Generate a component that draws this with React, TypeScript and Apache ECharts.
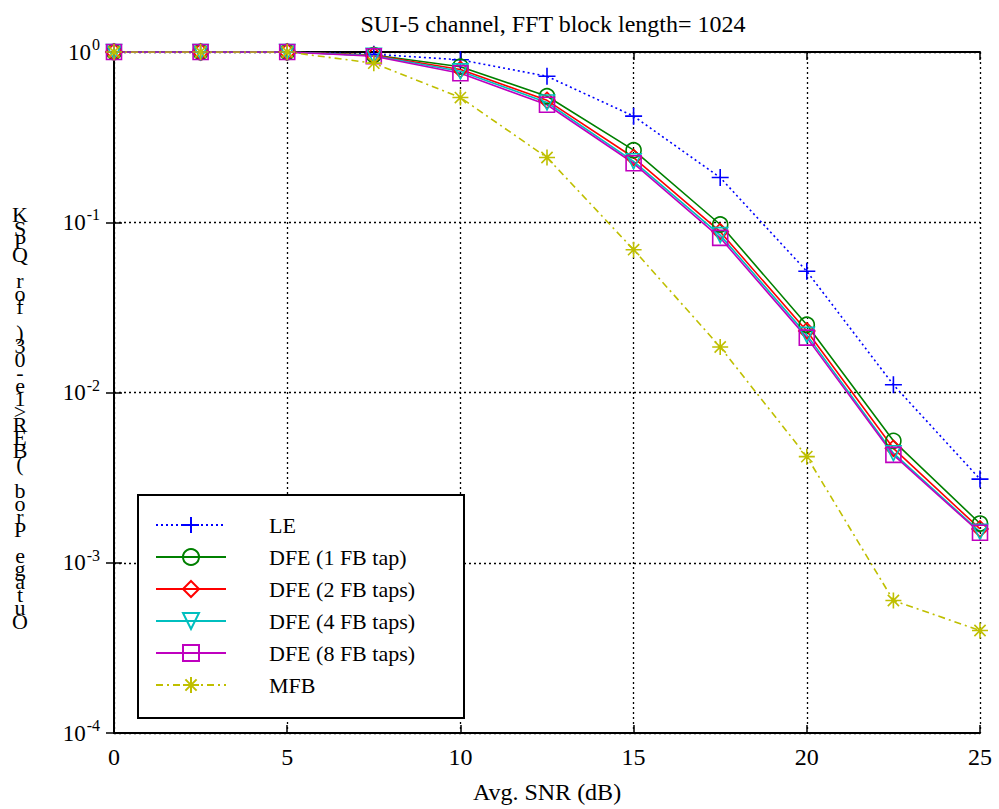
import React, { useEffect, useRef } from "react";
import * as echarts from "echarts";

const snr = [0, 2.5, 5, 7.5, 10, 12.5, 15, 17.5, 20, 22.5, 25];
const le = [1, 1, 1, 0.97, 0.9, 0.72, 0.42, 0.183, 0.0515, 0.0111, 0.0031];
const dfe1 = [1, 1, 1, 0.96, 0.82, 0.55, 0.265, 0.097, 0.025, 0.0052, 0.0017];
const dfe2 = [1, 1, 1, 0.955, 0.79, 0.52, 0.24, 0.088, 0.023, 0.0047, 0.00158];
const dfe4 = [1, 1, 1, 0.95, 0.77, 0.505, 0.228, 0.084, 0.0218, 0.0044, 0.00152];
const dfe8 = [1, 1, 1, 0.945, 0.75, 0.49, 0.222, 0.081, 0.021, 0.0043, 0.0015];
const mfb = [1, 1, 1, 0.86, 0.54, 0.24, 0.069, 0.0185, 0.0042, 0.0006, 0.0004];

const seriesNames = [
  "LE",
  "DFE (1 FB tap)",
  "DFE (2 FB taps)",
  "DFE (4 FB taps)",
  "DFE (8 FB taps)",
  "MFB",
];

const titleText = "SUI-5 channel, FFT block length= 1024";
const xName = "Avg. SNR (dB)";
const yName = "Outage Prob (BER>1e-03) for QPSK";

const FONT = '"Liberation Serif", "Times New Roman", serif';

const PLUS = "path://M0,5L10,5M5,0L5,10";
const STAR = "path://M5,0L5,10M0,5L10,5M1.5,1.5L8.5,8.5M8.5,1.5L1.5,8.5";

export default function App() {
  const ref = useRef<HTMLDivElement>(null);
  useEffect(() => {
    if (!ref.current) return;
    const chart = echarts.init(ref.current, undefined, { renderer: "svg" });
    const mk = (
      name: string,
      vals: number[],
      color: string,
      symbol: string,
      size: number,
      lineType: any,
      rotate = 0
    ) => ({
      name,
      type: "line",
      data: snr.map((x, i) => [x, vals[i]]),
      symbol,
      symbolSize: size,
      symbolRotate: rotate,
      showAllSymbol: true,
      color,
      itemStyle: { color: "rgba(0,0,0,0)", borderColor: color, borderWidth: 1.6 },
      lineStyle: { color, width: 1.6, type: lineType },
      z: 2,
    });
    const series = [
      mk(seriesNames[0], le, "#0000ff", PLUS, 17, [2, 3]),
      mk(seriesNames[1], dfe1, "#008000", "circle", 15, "solid"),
      mk(seriesNames[2], dfe2, "#ff0000", "diamond", 16, "solid"),
      mk(seriesNames[3], dfe4, "#00bfbf", "triangle", 15, "solid", 180),
      mk(seriesNames[4], dfe8, "#bf00bf", "rect", 15, "solid"),
      mk(seriesNames[5], mfb, "#bfbf00", STAR, 16, [7, 4, 2, 4]),
    ];
    const axisLine = { show: true, lineStyle: { color: "#000", width: 2 } };
    const tick = { show: true, inside: true, length: 8, lineStyle: { color: "#000", width: 1.5 } };
    chart.setOption({
      animation: false,
      backgroundColor: "#fff",
      title: {
        text: titleText,
        left: 548,
        top: 7,
        textAlign: "center",
        textStyle: { fontFamily: FONT, fontSize: 24, fontWeight: "normal", color: "#000" },
      },
      grid: { left: 114, right: 19, top: 52, bottom: 75 },
      xAxis: [
        {
          type: "value",
          min: 0,
          max: 25,
          interval: 5,
          axisLine,
          axisTick: tick,
          axisLabel: { fontFamily: FONT, fontSize: 24, color: "#000", margin: 12 },
          splitLine: { show: true, lineStyle: { color: "#000", type: [2, 3], width: 1.3 } },
          name: xName,
          nameLocation: "middle",
          nameGap: 47,
          nameTextStyle: { fontFamily: FONT, fontSize: 24, color: "#000" },
        },
        {
          type: "value",
          position: "top",
          min: 0,
          max: 25,
          interval: 5,
          axisLine,
          axisTick: tick,
          axisLabel: { show: false },
          splitLine: { show: false },
        },
      ],
      yAxis: [
        {
          type: "log",
          logBase: 10,
          min: 1e-4,
          max: 1,
          axisLine,
          axisTick: tick,
          minorTick: { show: false },
          axisLabel: {
            margin: 14,
            formatter: (v: number) => `{b|10}{s|${Math.round(Math.log10(v))}}`,
            rich: {
              b: { fontFamily: FONT, fontSize: 23, color: "#000" },
              s: { fontFamily: FONT, fontSize: 16, color: "#000", padding: [0, 0, 15, 1] },
            },
          },
          splitLine: { show: true, lineStyle: { color: "#000", type: [2, 3], width: 1.3 } },
        },
        {
          type: "log",
          logBase: 10,
          min: 1e-4,
          max: 1,
          position: "right",
          axisLine,
          axisTick: tick,
          axisLabel: { show: false },
          splitLine: { show: false },
        },
      ],
      legend: {
        orient: "vertical",
        left: 155,
        top: 514,
        itemWidth: 70,
        itemHeight: 20,
        itemGap: 10,
        padding: 0,
        data: seriesNames,
        textStyle: { fontFamily: FONT, fontSize: 22, lineHeight: 22, color: "#000", padding: [0, 0, 0, 38] },
        z: 5,
      },
      graphic: [
        {
          type: "rect",
          shape: { x: 138, y: 495, width: 326, height: 223 },
          style: { fill: "#fff", stroke: "#000", lineWidth: 2 },
          z: 4,
        },
        {
          type: "text",
          x: 20,
          y: 418,
          style: {
            text: yName.split("").reverse().join("\n"),
            fontFamily: FONT,
            fontSize: 22,
            lineHeight: 13.1,
            fill: "#000",
            align: "center",
            verticalAlign: "middle",
          },
        },
      ],
      series,
    });
    return () => chart.dispose();
  }, []);
  return (
    <div
      ref={ref}
      style={{ position: "fixed", left: 0, top: 0, width: 999, height: 809, background: "#fff" }}
    />
  );
}
